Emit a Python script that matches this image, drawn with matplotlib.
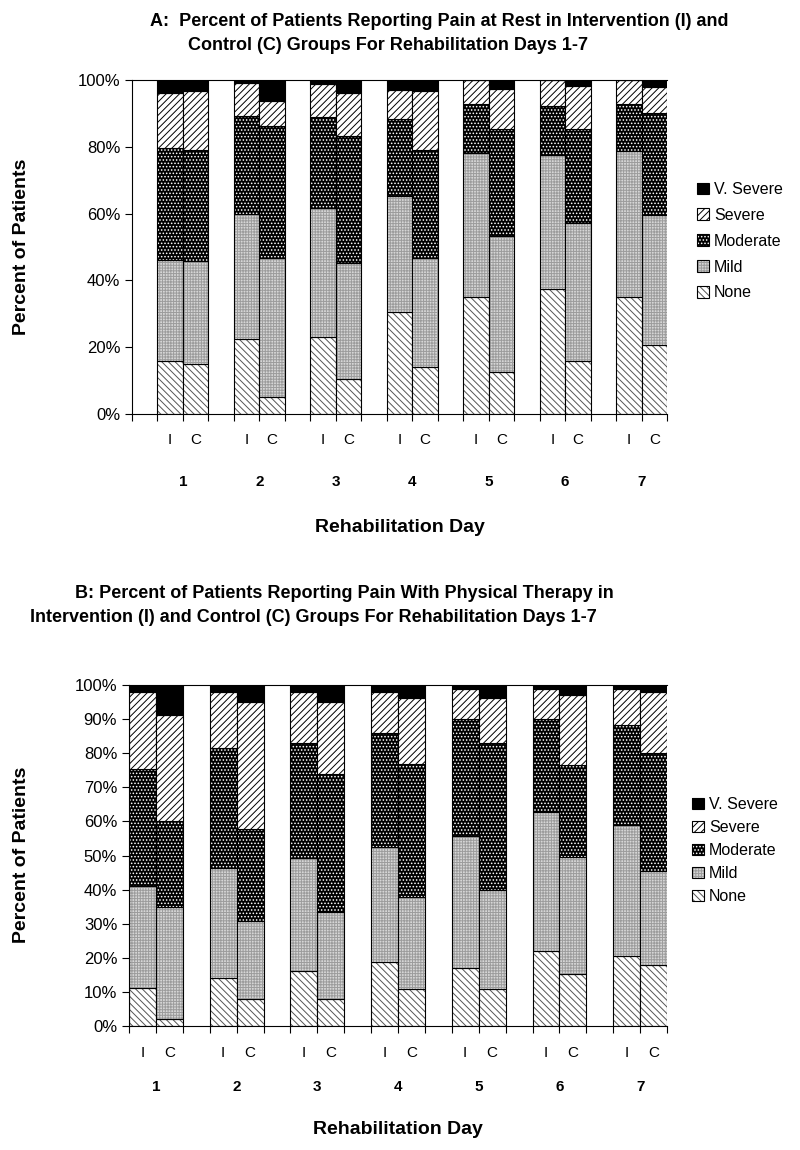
import matplotlib
matplotlib.use("Agg")
import matplotlib.pyplot as plt
from matplotlib.patches import Patch
from matplotlib.legend_handler import HandlerTuple
from matplotlib.ticker import FuncFormatter

# niveles de dolor, de abajo hacia arriba
levels = ['None', 'Mild', 'Moderate', 'Severe', 'V. Severe']
days = ['1', '2', '3', '4', '5', '6', '7']
groups = ['I', 'C']

# Panel A: dolor en reposo (porcentaje por nivel, dias 1-7)
rest_I = [
    [16.0, 22.5, 23.0, 30.5, 35.0, 37.3, 35.0],   # None
    [30.0, 37.5, 38.7, 34.7, 43.0, 40.2, 43.8],   # Mild
    [33.5, 29.3, 27.3, 23.0, 14.8, 14.7, 14.0],   # Moderate
    [16.5, 9.9, 9.8, 8.8, 7.2, 7.8, 7.2],         # Severe
    [4.0, 0.8, 1.2, 3.0, 0.0, 0.0, 0.0],          # V. Severe
]
rest_C = [
    [15.0, 5.0, 10.5, 14.2, 12.5, 15.8, 20.8],
    [30.8, 41.7, 34.8, 32.6, 40.8, 41.5, 38.9],
    [33.2, 39.5, 38.0, 32.2, 32.0, 28.0, 30.3],
    [17.8, 7.6, 12.7, 17.8, 11.9, 12.9, 8.0],
    [3.2, 6.2, 4.0, 3.2, 2.8, 1.8, 2.0],
]

# Panel B: dolor con terapia fisica
pt_I = [
    [11.0, 14.0, 16.1, 18.9, 17.1, 22.0, 20.6],
    [30.0, 32.2, 33.3, 33.7, 38.7, 40.9, 38.3],
    [34.5, 35.4, 33.5, 33.2, 34.1, 27.0, 29.4],
    [22.5, 16.4, 15.1, 12.2, 8.9, 8.9, 10.5],
    [2.0, 2.0, 2.0, 2.0, 1.2, 1.2, 1.2],
]
pt_C = [
    [2.0, 7.8, 7.8, 10.9, 10.9, 15.2, 17.9],
    [32.8, 23.0, 25.7, 27.0, 29.0, 34.5, 27.7],
    [25.3, 27.0, 40.3, 38.8, 43.2, 26.8, 34.4],
    [31.1, 37.1, 21.1, 19.4, 13.0, 20.6, 18.0],
    [8.8, 5.1, 5.1, 3.9, 3.9, 2.9, 2.0],
]

# relleno, trama y color de trama por nivel
faces = ['white', '#d6d6d6', 'black', 'white', 'black']
hatches = ['\\\\\\\\\\', '++++++', '.....', '/////', None]
hatch_colors = ['#555555', '#9c9c9c', 'white', 'black', 'black']

plt.rcParams['font.family'] = ['Liberation Sans', 'DejaVu Sans']
plt.rcParams['hatch.linewidth'] = 0.7
title_font = ['Liberation Sans Narrow', 'Liberation Sans', 'DejaVu Sans']

W, H = 800, 1150
fig = plt.figure(figsize=(W / 100, H / 100), dpi=100)


def px_axes(left, top, right, bottom):
    return fig.add_axes([left / W, 1 - bottom / H, (right - left) / W, (bottom - top) / H])


def draw_panel(ax, data_I, data_C, first_slot, n_slots, yticks, offs, leg_pos, leg_space):
    for g, data in enumerate([data_I, data_C]):
        x = [first_slot + 3 * d + g for d in range(len(days))]
        bottom = [0.0] * len(days)
        for k in range(len(levels)):
            vals = data[k]
            ax.bar(x, vals, width=1, bottom=bottom, align='edge', color=faces[k],
                   hatch=hatches[k], edgecolor=hatch_colors[k], linewidth=0)
            ax.bar(x, vals, width=1, bottom=bottom, align='edge', fill=False,
                   edgecolor='black', linewidth=0.8)
            bottom = [b + v for b, v in zip(bottom, vals)]

    ax.set_xlim(0, n_slots)
    ax.set_ylim(0, 100)
    ax.set_xticks(range(n_slots + 1))
    ax.set_xticklabels([])
    ax.set_yticks(yticks)
    ax.yaxis.set_major_formatter(FuncFormatter(lambda v, p: '%d%%' % v))
    ax.tick_params(axis='both', direction='out', length=5, width=0.8, labelsize=12)
    ax.spines['right'].set_visible(False)
    for s in ['top', 'left', 'bottom']:
        ax.spines[s].set_linewidth(0.8)

    tr = ax.get_xaxis_transform()
    for d, day in enumerate(days):
        for g, grp in enumerate(groups):
            ax.text(first_slot + 3 * d + g + 0.5, offs[0], grp, transform=tr,
                    ha='center', va='center', fontsize=11)
        ax.text(first_slot + 3 * d + 1, offs[1], day, transform=tr,
                ha='center', va='center', fontsize=11, fontweight='bold')
    ax.text(0.5, offs[2], 'Rehabilitation Day', transform=ax.transAxes,
            ha='center', va='center', fontsize=14, fontweight='bold')

    handles = []
    for k in range(len(levels)):
        fill = Patch(facecolor=faces[k], hatch=hatches[k], edgecolor=hatch_colors[k], linewidth=0)
        edge = Patch(fill=False, edgecolor='black', linewidth=0.8)
        handles.append((fill, edge))
    ax.legend(handles[::-1], levels[::-1], handler_map={tuple: HandlerTuple(ndivide=1)},
              loc='upper left', bbox_to_anchor=(leg_pos[0] / W, 1 - leg_pos[1] / H),
              bbox_transform=fig.transFigure, frameon=False, fontsize=11.5,
              handlelength=0.75, handleheight=0.75, handletextpad=0.3,
              labelspacing=leg_space, borderpad=0, borderaxespad=0)


# Panel A
axA = px_axes(132, 80, 667, 414)
draw_panel(axA, rest_I, rest_C, 1, 21, [0, 20, 40, 60, 80, 100],
           (-26 / 334, -68 / 334, -114 / 334), (697, 182), 0.68)
fig.text(150 / W, 1 - 22 / H, 'A:  Percent of Patients Reporting Pain at Rest in Intervention (I) and',
         family=title_font, fontweight='bold', fontsize=13, va='center')
fig.text(188 / W, 1 - 45 / H, 'Control (C) Groups For Rehabilitation Days 1-7',
         family=title_font, fontweight='bold', fontsize=13, va='center')
fig.text(22 / W, 1 - 247 / H, 'Percent of Patients', rotation=90, fontsize=14,
         fontweight='bold', ha='center', va='center')

# Panel B
axB = px_axes(129, 685, 667, 1026)
draw_panel(axB, pt_I, pt_C, 0, 20, list(range(0, 101, 10)),
           (-27 / 341, -61 / 341, -104 / 341), (692, 797), 0.5)
fig.text(75 / W, 1 - 593 / H, 'B: Percent of Patients Reporting Pain With Physical Therapy in',
         family=title_font, fontweight='bold', fontsize=13, va='center')
fig.text(30 / W, 1 - 617 / H, 'Intervention (I) and Control (C) Groups For Rehabilitation Days 1-7',
         family=title_font, fontweight='bold', fontsize=13, va='center')
fig.text(22 / W, 1 - 855 / H, 'Percent of Patients', rotation=90, fontsize=14,
         fontweight='bold', ha='center', va='center')

fig.savefig('out.png', dpi=100)
